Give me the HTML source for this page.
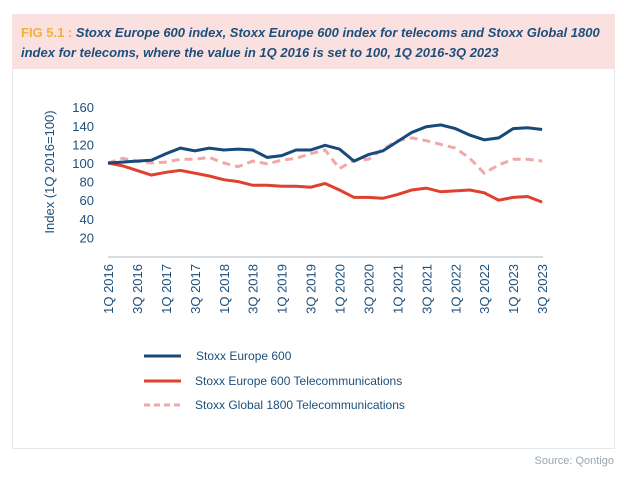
<!DOCTYPE html>
<html><head><meta charset="utf-8"><style>
body{margin:0;background:#fff;width:624px;height:481px;overflow:hidden;font-family:"Liberation Sans",sans-serif}
</style></head><body>
<svg width="624" height="481" xmlns="http://www.w3.org/2000/svg" font-family="Liberation Sans, sans-serif">
<rect x="12.5" y="14.5" width="602" height="434" fill="#fff" stroke="#e4e8ec"/>
<rect x="12" y="14" width="603" height="55" fill="#fbe0e0"/>
<text x="21" y="37" font-size="13" font-weight="bold" font-style="italic" fill="#1d4f7c"><tspan fill="#f2b13c" font-style="normal">FIG 5.1 : </tspan>Stoxx Europe 600 index, Stoxx Europe 600 index for telecoms and Stoxx Global 1800</text>
<text x="21" y="57" font-size="13" font-weight="bold" font-style="italic" fill="#1d4f7c">index for telecoms, where the value in 1Q 2016 is set to 100, 1Q 2016-3Q 2023</text>
<g font-size="13" fill="#1d4f7c" text-anchor="end" id="yl"></g>
<text transform="translate(54,172) rotate(-90)" font-size="13" fill="#1d4f7c" text-anchor="middle">Index (1Q 2016=100)</text>
<line x1="108" y1="257" x2="543" y2="257" stroke="#c9d3dc" stroke-width="1.5"/>
<g id="xl" font-size="13" fill="#1d4f7c"></g>
<polyline id="pk" fill="none" stroke="#f0a8a8" stroke-width="3" stroke-dasharray="8,5"/>
<polyline id="rd" fill="none" stroke="#e0402e" stroke-width="3"/>
<polyline id="bl" fill="none" stroke="#164a7a" stroke-width="3"/>
<line x1="144" y1="356" x2="181" y2="356" stroke="#164a7a" stroke-width="3"/>
<line x1="144" y1="381" x2="181" y2="381" stroke="#e0402e" stroke-width="3"/>
<line x1="144" y1="405" x2="181" y2="405" stroke="#f0a8a8" stroke-width="3" stroke-dasharray="6,4"/>
<g font-size="12" fill="#1d4f7c">
<text x="196" y="360">Stoxx Europe 600</text>
<text x="195" y="385">Stoxx Europe 600 Telecommunications</text>
<text x="195" y="409">Stoxx Global 1800 Telecommunications</text>
</g>
<text x="614" y="464" font-size="11" fill="#9aa6b2" text-anchor="end">Source: Qontigo</text>
</svg>
<script>
var B=[100,101,102,103,110,116,113,116,114,115,114,106,108,114,114,119,115,102,109,113,123,133,139,141,137,130,125,127,137,138,136];
var R=[100,97,92,87,90,92,89,86,82,80,76,76,75,75,74,78,71,63,63,62,66,71,73,69,70,71,68,60,63,64,58];
var P=[100,105,102,100,101,104,104,106,100,96,102,99,103,105,110,114,94,103,104,115,124,127,124,120,116,105,89,98,104,104,102];
function pts(a){return a.map(function(v,i){return (108+14.47*i).toFixed(1)+','+(256-v*0.93).toFixed(1)}).join(' ')}
document.getElementById('bl').setAttribute('points',pts(B));
document.getElementById('rd').setAttribute('points',pts(R));
document.getElementById('pk').setAttribute('points',pts(P));
var ns='http://www.w3.org/2000/svg',yl=document.getElementById('yl');
for(var v=20;v<=160;v+=20){var t=document.createElementNS(ns,'text');t.setAttribute('x',94);t.setAttribute('y',(256-v*0.93+5).toFixed(1));t.textContent=v;yl.appendChild(t);}
var xl=document.getElementById('xl');
for(var k=0;k<16;k++){var i=k*2;var y=2016+Math.floor(i/4);var q=(i%4)+1;var x=108+14.47*i+5;var t=document.createElementNS(ns,'text');t.setAttribute('transform','translate('+x.toFixed(1)+',264) rotate(-90)');t.setAttribute('text-anchor','end');t.textContent=q+'Q '+y;xl.appendChild(t);}
</script>
</body></html>
